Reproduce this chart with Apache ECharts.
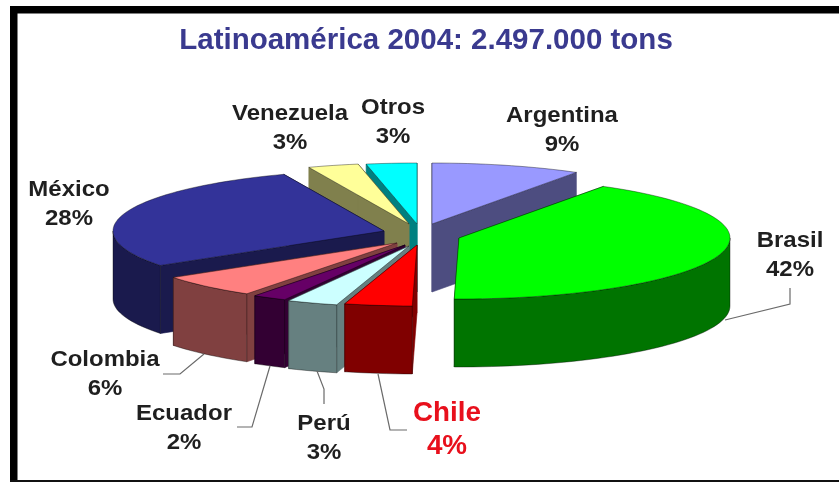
<!DOCTYPE html>
<html>
<head>
<meta charset="utf-8">
<style>html,body{margin:0;padding:0;background:#fff}#chart{width:839px;height:482px}</style>
<script src="https://cdn.jsdelivr.net/npm/echarts@6/dist/echarts.min.js"></script>
</head>
<body>
<div id="chart"></div>
<script>
// Latin American production shares, 2004 (percent), clockwise from twelve o'clock
const countries = ['Argentina', 'Brasil', 'Chile', 'Perú', 'Ecuador', 'Colombia', 'México', 'Venezuela', 'Otros'];
const shares = [9, 42, 4, 3, 2, 6, 28, 3, 3];
const chartTitle = 'Latinoamérica 2004: 2.497.000 tons';

// Face and wall colours of each slice
const topColors = ['#9999ff', '#00ff00', '#ff0000', '#ccffff', '#660066', '#ff8080', '#333399', '#ffff99', '#00ffff'];
const sideColors = ['#4d4d80', '#007400', '#800000', '#668080', '#330033', '#804040', '#1a1a4d', '#80804d', '#008080'];

// Back-to-front painting order (indexes into countries)
const paintOrder = [0, 8, 7, 6, 5, 4, 3, 2, 1];

// Projection of the disc: ellipse radii, extrusion depth, and how far the
// oblique camera drags angles on the near side of the rim
const RX = 271, RY = 61, DEPTH = 68, NEAR_SKEW_DEG = 2.6;

// Where each exploded slice has its tip
const tips = [[432, 224], [459, 238], [417, 245], [409, 246], [405, 245], [397, 243], [384, 231], [409, 224], [417, 224]];

// Label anchors and leader lines
const labelAnchors = [[562, 130], [790, 255], [447, 430], [324, 438], [184, 428], [105, 374], [69, 204], [290, 128], [393, 122]];
const leaderLines = [
  [[790, 288], [790, 304], [725, 320]],
  [[378, 374], [390, 430], [407, 430]],
  [[317, 371], [324, 389], [324, 404]],
  [[270, 366], [252, 427], [237, 427]],
  [[204, 354], [180, 374], [163, 374]]
];

const rad = d => d * Math.PI / 180;

// Screen angle of a true pie angle under the oblique view
const viewAngle = d => d - NEAR_SKEW_DEG * (1 - Math.cos(rad(d))) / 2;

// Angular span of every slice, accumulated from the shares
const total = shares.reduce((a, b) => a + b, 0);
const spans = [];
shares.reduce((acc, s, i) => {
  spans[i] = [viewAngle(acc / total * 360), viewAngle((acc + s) / total * 360)];
  return acc + s;
}, 0);

function rim(tip, deg, drop) {
  return [tip[0] + RX * Math.sin(rad(deg)), tip[1] - RY * Math.cos(rad(deg)) + (drop || 0)];
}

function arcPoints(tip, from, to, drop) {
  const pts = [];
  const n = Math.max(2, Math.ceil((to - from) / 2));
  for (let k = 0; k <= n; k++) pts.push(rim(tip, from + (to - from) * k / n, drop));
  return pts;
}

function poly(points, fill, stroke, width, order) {
  return {
    type: 'polygon',
    z2: order,
    shape: { points },
    style: { fill, stroke, lineWidth: width, lineJoin: 'round' }
  };
}

function renderSlice(params, api) {
  const i = api.value(0);
  const tip = tips[i];
  const [a0, a1] = spans[i];
  const side = sideColors[i];
  const base = params.dataIndex * 10;
  const children = [];

  // Cut walls running from the tip out to the rim
  [a0, a1].forEach(a => {
    const p = rim(tip, a);
    children.push(poly([tip, p, [p[0], p[1] + DEPTH], [tip[0], tip[1] + DEPTH]], side, side, 0.6, base));
  });

  // Curved outer wall: only the part of the rim facing the viewer
  const f0 = Math.max(a0, 90), f1 = Math.min(a1, 270);
  if (f1 > f0) {
    const upper = arcPoints(tip, f0, f1, 0);
    const lower = arcPoints(tip, f0, f1, DEPTH).reverse();
    children.push(poly(upper.concat(lower), side, 'rgba(0,0,0,0.55)', 0.7, base + 1));
  }

  // Top face
  children.push(poly([tip].concat(arcPoints(tip, a0, a1, 0)), topColors[i], 'rgba(0,0,0,0.55)', 0.7, base + 2));
  return { type: 'group', children };
}

const frame = [
  { type: 'rect', shape: { x: 10, y: 6, width: 7.5, height: 476 }, style: { fill: '#000' } },
  { type: 'rect', shape: { x: 10, y: 6, width: 829, height: 7.5 }, style: { fill: '#000' } },
  { type: 'rect', shape: { x: 10, y: 480, width: 829, height: 2 }, style: { fill: '#111' } }
];

const leaders = leaderLines.map(points => ({
  type: 'polyline',
  z: 5,
  shape: { points },
  style: { fill: 'none', stroke: '#6a6a6a', lineWidth: 1.2 }
}));

const labels = countries.map((name, i) => {
  const chile = name === 'Chile';
  return {
    type: 'text',
    z: 6,
    x: labelAnchors[i][0],
    y: labelAnchors[i][1],
    scaleX: chile ? 1.03 : 1.09,
    style: {
      text: name + '\n' + shares[i] + '%',
      align: 'center',
      verticalAlign: 'middle',
      fontFamily: '"Liberation Sans", Arial, sans-serif',
      fontWeight: 'bold',
      fontSize: chile ? 27 : 22,
      lineHeight: chile ? 33 : 29,
      fill: chile ? '#e8101c' : '#1f1f1f'
    }
  };
});

const chart = echarts.init(document.getElementById('chart'), null, { renderer: 'canvas' });
chart.setOption({
  animation: false,
  backgroundColor: '#ffffff',
  title: {
    text: chartTitle,
    left: 421,
    top: 21,
    textAlign: 'center',
    textStyle: {
      fontFamily: '"Liberation Sans", Arial, sans-serif',
      fontWeight: 'bold',
      fontSize: 29.5,
      color: '#3a3a8f'
    }
  },
  graphic: { elements: frame.concat(leaders, labels) },
  series: [{
    type: 'custom',
    coordinateSystem: 'none',
    renderItem: renderSlice,
    data: paintOrder.map(i => [i, shares[i]]),
    silent: true
  }]
});
</script>
</body>
</html>
